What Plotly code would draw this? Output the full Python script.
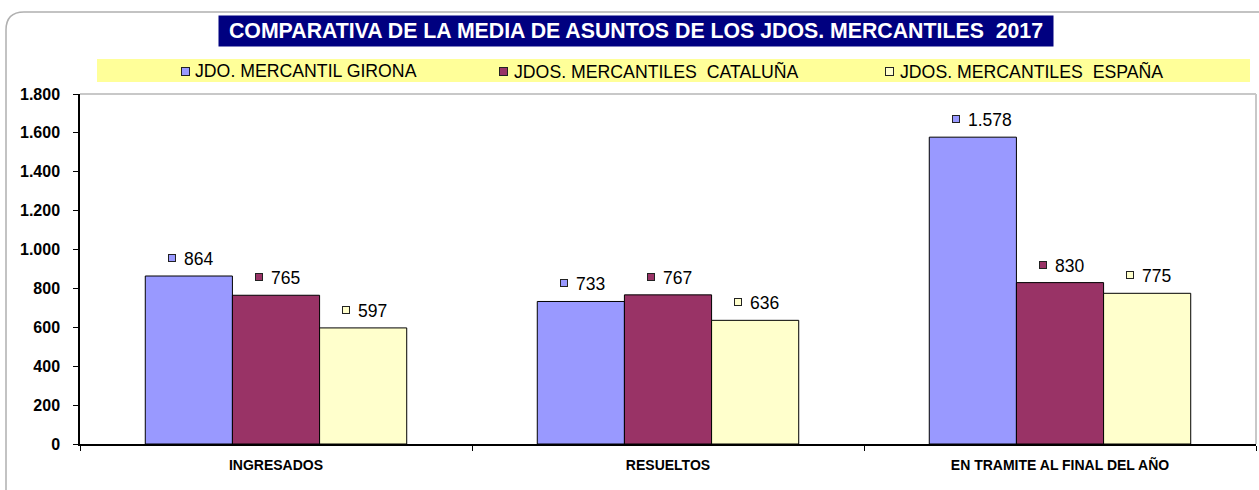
import plotly.graph_objects as go

categories = ["INGRESADOS", "RESUELTOS", "EN TRAMITE AL FINAL DEL AÑO"]
series_names = ["JDO. MERCANTIL GIRONA", "JDOS. MERCANTILES  CATALUÑA", "JDOS. MERCANTILES  ESPAÑA"]
girona = [864, 733, 1578]
cataluna = [765, 767, 830]
espana = [597, 636, 775]
colors = ["#9999FF", "#993366", "#FFFFCC"]
title_text = "COMPARATIVA DE LA MEDIA DE ASUNTOS DE LOS JDOS. MERCANTILES  2017"
y_ticks = [0, 200, 400, 600, 800, 1000, 1200, 1400, 1600, 1800]

W, H = 1259, 490
L, R, T, B = 80, 3, 94, 46
PW, PH = W - L - R, H - T - B
FONT = "Arial, Liberation Sans, sans-serif"

def px_x(p):
    return (p - L) / PW

def px_y(p):
    return (H - B - p) / PH

series = [girona, cataluna, espana]
xs = list(range(len(categories)))
bw = (1 - 0.333) / 3
offsets = [-bw, 0, bw]

fig = go.Figure()
for name, vals, col in zip(series_names, series, colors):
    fig.add_trace(go.Bar(
        x=xs, y=vals, name=name, marker=dict(color=col, line=dict(color="black", width=1)),
        showlegend=False, hoverinfo="skip"))

def fmt(v):
    return f"{v:,}".replace(",", ".")

annotations = []
for vals, col, off in zip(series, colors, offsets):
    for i, v in enumerate(vals):
        xc = i + off
        annotations.append(dict(x=xc, y=v, xref="x", yref="y", text=fmt(v), showarrow=False,
                                xanchor="left", yanchor="middle", xshift=-7, yshift=17,
                                font=dict(family=FONT, size=17.5, color="black")))
        annotations.append(dict(x=xc, y=v, xref="x", yref="y", text=" ", showarrow=False,
                                xanchor="center", yanchor="middle", xshift=-17, yshift=18,
                                width=6, height=6, bgcolor=col, bordercolor="#222222",
                                borderwidth=1, borderpad=0, font=dict(size=1)))

# Title
annotations.append(dict(x=px_x(636), y=px_y(31.5), xref="paper", yref="paper",
                        text="<b>" + title_text.replace("  ", " &nbsp;") + "</b>",
                        showarrow=False, xanchor="center", yanchor="middle",
                        bgcolor="#000080", borderpad=4, width=826, height=22,
                        font=dict(family=FONT, size=21.3, color="white")))

# Legend (band + items)
legend_pos = [(185, 193), (503, 512), (889, 898)]
for (sx, tx), name, col in zip(legend_pos, series_names, colors):
    annotations.append(dict(x=px_x(sx), y=px_y(71), xref="paper", yref="paper", text=" ", showarrow=False,
                            xanchor="center", yanchor="middle", width=7, height=7, bgcolor=col,
                            bordercolor="#222222", borderwidth=1, borderpad=0, font=dict(size=1)))
    annotations.append(dict(x=px_x(tx), y=px_y(71), xref="paper", yref="paper",
                            text=name.replace("  ", " &nbsp;"), showarrow=False,
                            xanchor="left", yanchor="middle",
                            font=dict(family=FONT, size=17.7, color="black")))

shapes = [
    dict(type="rect", xref="paper", yref="paper", x0=px_x(97), x1=px_x(1250), y0=px_y(82), y1=px_y(59),
         fillcolor="#FFFF99", line=dict(width=0), layer="below"),
    dict(type="line", xref="paper", yref="paper", x0=0, x1=1, y0=1, y1=1, line=dict(color="#C8C8C8", width=2)),
    dict(type="line", xref="paper", yref="paper", x0=1, x1=1, y0=0, y1=1, line=dict(color="#C8C8C8", width=2)),
    dict(type="path", xref="paper", yref="paper",
         path=f"M {px_x(6)},{px_y(495)} L {px_x(6)},{px_y(30)} Q {px_x(6)},{px_y(12)} {px_x(24)},{px_y(12)} L {px_x(1262)},{px_y(12)}",
         line=dict(color="#B0B0B0", width=1.5)),
]

fig.update_layout(
    width=W, height=H, margin=dict(l=L, r=R, t=T, b=B),
    paper_bgcolor="white", plot_bgcolor="white",
    barmode="group", bargap=0.333, bargroupgap=0,
    separators=",.",
    annotations=annotations, shapes=shapes,
    font=dict(family=FONT, color="black"),
    xaxis=dict(range=[-0.5, 2.5], tickvals=xs, ticktext=["<b>%s</b>" % c for c in categories],
               ticks="", showgrid=False, zeroline=False, showline=True, linecolor="black", linewidth=1.5,
               tickfont=dict(family=FONT, size=14), ticklabelstandoff=7,
               minor=dict(tickmode="array", tickvals=[-0.5, 0.5, 1.5, 2.5], ticks="outside", ticklen=5,
                          tickcolor="black", tickwidth=1, showgrid=False)),
    yaxis=dict(range=[0, 1800], tickvals=y_ticks, ticktext=["<b>%s</b>" % fmt(v) for v in y_ticks],
               ticks="outside", ticklen=5, tickcolor="black", showgrid=False, zeroline=False,
               showline=True, linecolor="black", linewidth=1.5,
               tickfont=dict(family=FONT, size=16), ticklabelstandoff=10),
)

fig.write_html("out.html", config={"displayModeBar": False},
               post_script="document.body.style.margin='0';document.body.style.padding='0';")
